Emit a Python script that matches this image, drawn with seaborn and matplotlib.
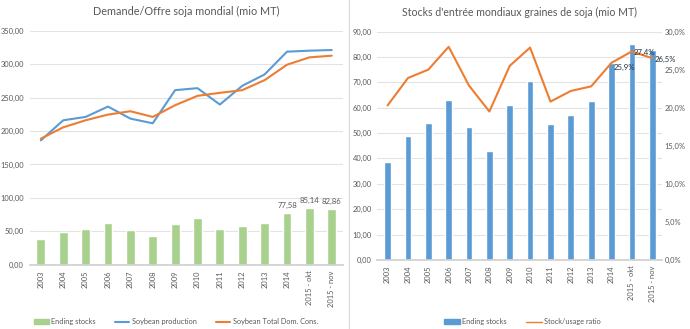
import matplotlib
matplotlib.use("Agg")
import matplotlib.pyplot as plt
from matplotlib.ticker import FuncFormatter, MultipleLocator
from matplotlib.patches import Patch
from matplotlib.lines import Line2D
import seaborn as sns
import pandas as pd

categories = ["2003", "2004", "2005", "2006", "2007", "2008", "2009", "2010",
              "2011", "2012", "2013", "2014", "2015 - okt", "2015 - nov"]
ending_stocks = [38.4, 48.8, 53.8, 63.0, 52.4, 43.0, 61.1, 70.5,
                 53.7, 57.3, 62.7, 77.58, 85.14, 82.86]
production = [186.0, 216.0, 221.0, 236.5, 218.5, 211.5, 261.0, 264.0,
              239.5, 267.5, 284.5, 318.5, 320.0, 321.0]
consumption = [188.5, 205.5, 216.0, 224.5, 229.5, 221.0, 238.5, 252.5,
               257.0, 261.0, 276.0, 299.0, 310.0, 312.5]
stock_usage = [20.3, 23.9, 25.0, 28.0, 22.9, 19.5, 25.5, 27.9,
               20.8, 22.2, 22.8, 25.9, 27.4, 26.5]

title_left = "Demande/Offre soja mondial (mio MT)"
title_right = "Stocks d'entrée mondiaux graines de soja (mio MT)"

GREEN = "#a9d18e"
BLUE_LINE = "#5b9bd5"
ORANGE = "#ed7d31"
BLUE_BAR = "#5b9bd5"
GRID = "#e3e3e3"
TXT = "#595959"
TICK_FS = 5.4

df = pd.DataFrame({"cat": categories, "stocks": ending_stocks,
                   "prod": production, "cons": consumption,
                   "ratio": stock_usage})

sns.set_theme(style="white")
plt.rcParams["font.family"] = ["Lato", "DejaVu Sans"]

fig = plt.figure(figsize=(6.9, 3.29), dpi=100)
axL = fig.add_axes([0.043, 0.195, 0.454, 0.712])
axR = fig.add_axes([0.547, 0.21, 0.413, 0.694])

comma2 = FuncFormatter(lambda v, p: f"{v:.2f}".replace(".", ","))
pct1 = FuncFormatter(lambda v, p: f"{v:.1f}%".replace(".", ","))

# ---------- Left chart ----------
sns.barplot(data=df, x="cat", y="stocks", color=GREEN, width=0.4,
            saturation=1, ax=axL)
sns.lineplot(data=df, x="cat", y="prod", color=BLUE_LINE, linewidth=1.5,
             sort=False, ax=axL)
sns.lineplot(data=df, x="cat", y="cons", color=ORANGE, linewidth=1.5,
             sort=False, ax=axL)
axL.set_ylim(0, 350)
axL.set_xlim(-0.5, len(categories) - 0.5)
axL.yaxis.set_major_locator(MultipleLocator(50))
axL.yaxis.set_major_formatter(comma2)
axL.grid(axis="y", color=GRID, linewidth=0.8)
axL.set_axisbelow(True)
for s in ["top", "right", "left"]:
    axL.spines[s].set_visible(False)
axL.spines["bottom"].set_color("#d0d0d0")
axL.set_xlabel("")
axL.set_ylabel("")
axL.tick_params(axis="x", labelrotation=90, labelsize=TICK_FS, colors=TXT, length=0, pad=4)
axL.tick_params(axis="y", labelsize=TICK_FS, colors=TXT, length=0, pad=4)
axL.set_title(title_left, fontsize=7.8, color=TXT, pad=11)
for i in range(11, 14):
    axL.text(i, ending_stocks[i] + 6, f"{ending_stocks[i]:.2f}".replace(".", ","),
             ha="center", va="bottom", fontsize=5.6, color=TXT)

handlesL = [Patch(color=GREEN), Line2D([], [], color=BLUE_LINE, lw=1.5),
            Line2D([], [], color=ORANGE, lw=1.5)]
fig.legend(handlesL, ["Ending stocks", "Soybean production", "Soybean Total Dom. Cons."],
           loc="center", bbox_to_anchor=(0.255, 0.022), ncol=3, frameon=False,
           fontsize=5.3, labelcolor=TXT, handlelength=2.0, handleheight=0.6,
           columnspacing=2.6, handletextpad=0.3)

# ---------- Right chart ----------
sns.barplot(data=df, x="cat", y="stocks", color=BLUE_BAR, width=0.33,
            saturation=1, ax=axR)
axR.set_ylim(0, 90)
axR.set_xlim(-0.5, len(categories) - 0.5)
axR.yaxis.set_major_locator(MultipleLocator(10))
axR.yaxis.set_major_formatter(comma2)
axR.grid(axis="y", color=GRID, linewidth=0.8)
axR.set_axisbelow(True)
for s in ["top", "right", "left"]:
    axR.spines[s].set_visible(False)
axR.spines["bottom"].set_color("#d0d0d0")
axR.set_xlabel("")
axR.set_ylabel("")
axR.tick_params(axis="x", labelrotation=90, labelsize=TICK_FS, colors=TXT, length=0, pad=4)
axR.tick_params(axis="y", labelsize=TICK_FS, colors=TXT, length=0, pad=4)
axR.set_title(title_right, fontsize=7.6, color=TXT, pad=11)

ax2 = axR.twinx()
sns.lineplot(data=df, x="cat", y="ratio", color=ORANGE, linewidth=1.5,
             sort=False, ax=ax2)
ax2.set_ylim(0, 30)
ax2.yaxis.set_major_locator(MultipleLocator(5))
ax2.yaxis.set_major_formatter(pct1)
ax2.set_ylabel("")
ax2.grid(False)
for s in ["top", "right", "left", "bottom"]:
    ax2.spines[s].set_visible(False)
ax2.tick_params(axis="y", labelsize=TICK_FS, colors=TXT, length=0, pad=1.5)
for i in range(11, 14):
    ax2.text(i + 0.1, stock_usage[i] - 0.2, f"{stock_usage[i]:.1f}%".replace(".", ","),
             ha="left", va="top" if i == 11 else "center", fontsize=5.6, color="#1f2d3d")

handlesR = [Patch(color=BLUE_BAR), Line2D([], [], color=ORANGE, lw=1.0)]
fig.legend(handlesR, ["Ending stocks", "Stock/usage ratio"],
           loc="center", bbox_to_anchor=(0.757, 0.022), ncol=2, frameon=False,
           fontsize=5.3, labelcolor=TXT, handlelength=2.2, handleheight=0.6,
           columnspacing=2.6, handletextpad=0.3)

fig.add_artist(Line2D([0.506, 0.506], [0.0, 1.0], transform=fig.transFigure,
                      color="#d9d9d9", lw=0.8))

fig.savefig("out.png", dpi=100)
